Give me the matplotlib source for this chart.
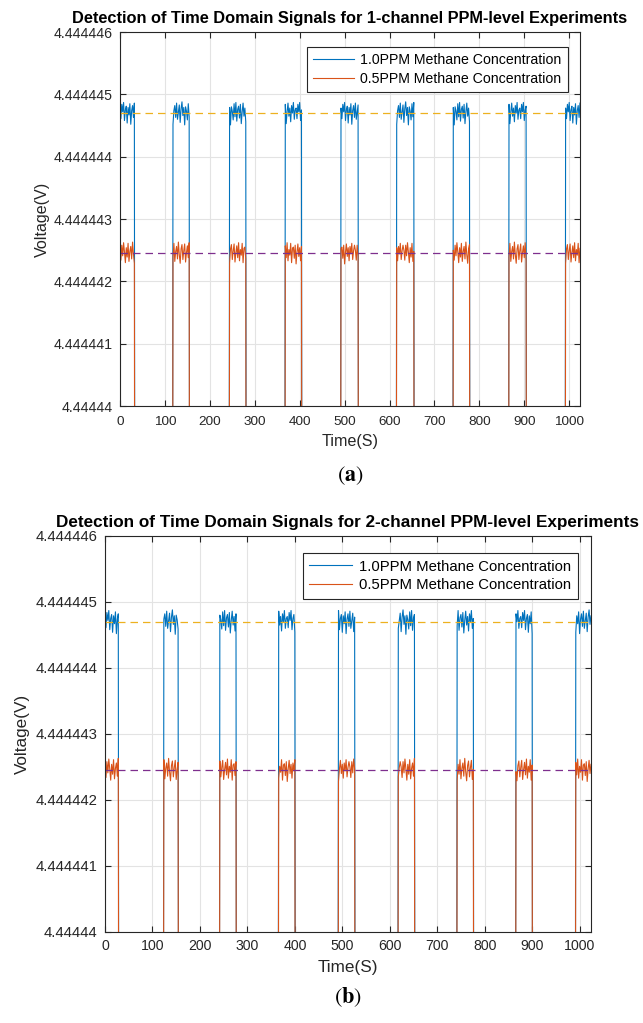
import numpy as np
import matplotlib
matplotlib.use("Agg")
import matplotlib.pyplot as plt

plt.rcParams['font.family'] = ['Liberation Sans', 'DejaVu Sans']
plt.rcParams['mathtext.fontset'] = 'stix'

# pulse windows (start, end) in seconds
pulses_a = [(0, 32), (118, 154), (243, 280), (367, 404), (492, 530),
            (616, 655), (742, 778), (866, 905), (992, 1024)]
pulses_b = [(0, 28), (123, 154), (242, 277), (366, 401), (491, 527),
            (617, 652), (742, 777), (866, 901), (991, 1024)]

# mean levels (V) and hand-read ripple around them (units of 1e-7 V)
level_hi = 4.4444447
level_lo = 4.44444245
level_off = 4.44443
ripple_hi = [0.8, -0.9, 1.4, 0.2, 1.7, -1.2, 0.5, 1.1, -1.6, 0.9, -0.3, 1.5,
             -1.8, 0.4, 1.2, -0.7, 1.6, -1.0, 0.1, 1.3, -1.5, 0.7, 1.8, -0.4,
             0.9, -1.9, 1.0, 0.3, -1.1, 1.5, -0.6, 1.7, -1.3, 0.6, 1.1, -0.8,
             1.4, -1.7, 0.2, 1.6, -0.5, 0.8, -1.4, 1.2, 0.0, 1.7, -1.0, 0.5]
ripple_lo = [0.5, -1.1, 1.3, -0.4, 1.7, 0.2, -1.5, 0.9, -0.6, 1.6, -1.3, 0.3,
             1.1, -0.9, 1.8, -0.2, -1.6, 0.7, 1.4, -1.0, 0.4, 1.5, -1.4, 0.1,
             1.2, -0.7, 1.7, -1.2, 0.6, -0.3, 1.6, -1.5, 0.8, 1.0, -0.8, 1.3,
             -1.7, 0.2, 1.5, -0.5, 0.9, -1.2, 1.1, -0.1, 1.6, -1.0, 0.4, 1.3]

yticks = [4.44444, 4.444441, 4.444442, 4.444443, 4.444444, 4.444445, 4.444446]
ytick_labels = ['4.44444', '4.444441', '4.444442', '4.444443', '4.444444',
                '4.444445', '4.444446']
xticks = list(range(0, 1001, 100))
t = np.arange(0, 1026, 2.0)

blue = '#0072BD'
orange = '#D95319'


def build(pulses, level, ripple, shift):
    y = np.full(t.shape, level_off)
    for k, (a, b) in enumerate(pulses):
        idx = np.where((t >= a) & (t <= b))[0]
        for j, i in enumerate(idx):
            y[i] = level + ripple[(j + k * shift) % len(ripple)] * 1e-7
    return y


def panel(rect, pulses, n, fs, title_fs, lab_fs, caption, cap_y, ylab_x,
          xlab_pad, xtick_pad, leg_anchor):
    ax = fig.add_axes(rect)
    ax.plot(t, build(pulses, level_hi, ripple_hi, 11 + n), color=blue, lw=0.8,
            label='1.0PPM Methane Concentration')
    ax.plot(t, build(pulses, level_lo, ripple_lo, 7 + n), color=orange, lw=0.8,
            label='0.5PPM Methane Concentration')
    ax.plot([0, 1024], [level_hi, level_hi], ls=(0, (6, 4)), color='#EDB120', lw=0.9)
    ax.plot([0, 1024], [level_lo, level_lo], ls=(0, (6, 4)), color='#7E2F8E', lw=0.9)
    ax.set_xlim(0, 1024)
    ax.set_ylim(4.44444, 4.444446)
    ax.set_yticks(yticks)
    ax.set_yticklabels(ytick_labels)
    ax.set_xticks(xticks)
    ax.grid(True, color='#E3E3E3', lw=0.8)
    ax.set_axisbelow(True)
    ax.tick_params(direction='in', top=True, right=True, labelsize=fs,
                   colors='#262626', length=4, width=0.8)
    ax.tick_params(axis='x', labelsize=fs - 0.5, pad=xtick_pad)
    ax.tick_params(axis='y', pad=5.5)
    for s in ax.spines.values():
        s.set_color('#262626')
        s.set_linewidth(0.8)
    ax.set_title('Detection of Time Domain Signals for %d-channel PPM-level Experiments' % n,
                 fontsize=title_fs, fontweight='bold', pad=6.5)
    ax.set_xlabel('Time(S)', fontsize=lab_fs, color='#262626', labelpad=xlab_pad)
    ax.set_ylabel('Voltage(V)', fontsize=lab_fs, color='#262626')
    ax.yaxis.set_label_coords(ylab_x, 0.5)
    leg = ax.legend(loc='upper right', bbox_to_anchor=leg_anchor, fontsize=fs,
                    fancybox=False, edgecolor='#262626', framealpha=1,
                    borderaxespad=0, handlelength=2.9, handletextpad=0.45,
                    borderpad=0.45, labelspacing=0.3)
    leg.get_frame().set_linewidth(0.8)
    fig.text(rect[0] + rect[2] / 2, cap_y, r'($\mathbf{%s}$)' % caption,
             fontsize=16, family='STIXGeneral', ha='center', va='center')
    return ax


fig = plt.figure(figsize=(6.43, 10.23), dpi=100)
panel([0.1866, 0.6031, 0.7154, 0.3656], pulses_a, 1, 10.2, 11.8, 11.6, 'a',
      1 - 476 / 1023, -0.152, 4.5, 7.0, (0.974, 0.96))
panel([0.1633, 0.0890, 0.7558, 0.3871], pulses_b, 2, 10.7, 12.3, 12.3, 'b',
      1 - 997 / 1023, -0.155, 5, 5.0, (0.973, 0.957))
fig.savefig('out.png', dpi=100)
